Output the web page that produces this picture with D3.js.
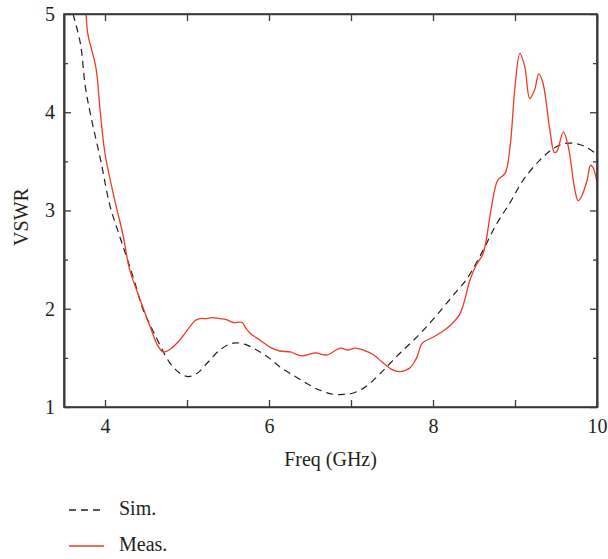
<!DOCTYPE html>
<html>
<head>
<meta charset="utf-8">
<script src="https://cdn.jsdelivr.net/npm/d3@7"></script>
<style>
body { margin: 0; background: #fff; }
text { font-family: "Liberation Serif", "Times New Roman", "DejaVu Serif", serif; fill: #231f20; }
</style>
</head>
<body>
<svg id="ChartSvg" width="608" height="559"></svg>
<script>
// simulated VSWR
var SimFreq = [3.61,3.70,3.76,3.83,3.95,4.06,4.17,4.27,4.37,4.46,4.60,4.79,4.92,5.02,5.12,5.25,5.40,5.56,5.70,5.85,6.00,6.13,6.30,6.46,6.62,6.78,6.92,7.02,7.17,7.32,7.46,7.60,7.74,7.88,8.03,8.17,8.29,8.41,8.57,8.78,8.94,9.10,9.30,9.45,9.59,9.75,9.88,10.0];
var SimVswr = [5.00,4.70,4.26,3.95,3.50,3.05,2.76,2.51,2.25,2.00,1.75,1.45,1.34,1.31,1.34,1.45,1.58,1.65,1.64,1.58,1.50,1.41,1.32,1.24,1.17,1.13,1.13,1.14,1.20,1.31,1.43,1.55,1.66,1.78,1.92,2.06,2.18,2.30,2.53,2.87,3.08,3.31,3.51,3.62,3.68,3.68,3.64,3.57];

// measured VSWR
var MeasFreq = [3.77,3.79,3.89,3.94,4.00,4.12,4.22,4.30,4.43,4.55,4.64,4.71,4.78,4.91,5.02,5.10,5.16,5.24,5.30,5.40,5.48,5.56,5.67,5.72,5.77,5.89,6.01,6.13,6.26,6.40,6.56,6.71,6.87,6.96,7.05,7.15,7.26,7.39,7.50,7.60,7.72,7.80,7.87,8.00,8.10,8.21,8.33,8.45,8.53,8.61,8.70,8.75,8.79,8.88,8.94,9.00,9.06,9.12,9.18,9.24,9.29,9.34,9.43,9.48,9.51,9.59,9.65,9.73,9.77,9.81,9.88,9.92,9.95,10.0];
var MeasVswr = [5.00,4.80,4.45,4.02,3.58,3.10,2.75,2.40,2.09,1.82,1.63,1.56,1.58,1.68,1.80,1.88,1.90,1.90,1.91,1.90,1.89,1.86,1.86,1.80,1.75,1.68,1.61,1.57,1.56,1.52,1.55,1.53,1.60,1.58,1.60,1.58,1.54,1.45,1.38,1.36,1.40,1.50,1.65,1.71,1.76,1.83,1.95,2.29,2.45,2.56,2.97,3.20,3.31,3.38,3.65,4.26,4.60,4.46,4.14,4.23,4.39,4.30,3.79,3.59,3.60,3.80,3.65,3.21,3.10,3.14,3.31,3.46,3.44,3.29];

var XTicks = [4,6,8,10];
var YTicks = [1,2,3,4,5];

var Svg = d3.select("#ChartSvg");
var Left = 64, Right = 597, Top = 14, Bottom = 407;
var FontSize = 20;

var X = d3.scaleLinear().domain([3.5,10]).range([Left,Right]);
var Y = d3.scaleLinear().domain([1,5]).range([Bottom,Top]);

Svg.append("clipPath").attr("id","PlotClip")
	.append("rect").attr("x",Left).attr("y",Top).attr("width",Right-Left).attr("height",Bottom-Top);

var SimData = SimFreq.map(function(f,i){ return [f,SimVswr[i]]; });
var MeasData = MeasFreq.map(function(f,i){ return [f,MeasVswr[i]]; });

var Line = d3.line()
	.x(function(d){ return X(d[0]); })
	.y(function(d){ return Y(d[1]); })
	.curve(d3.curveCatmullRom.alpha(0.5));

var Plot = Svg.append("g").attr("clip-path","url(#PlotClip)");

Plot.append("path").datum(SimData)
	.attr("d",Line)
	.attr("fill","none")
	.attr("stroke","#231f20")
	.attr("stroke-width",1.2)
	.attr("stroke-dasharray","7,5");

Plot.append("path").datum(MeasData)
	.attr("d",Line)
	.attr("fill","none")
	.attr("stroke","#ee3b24")
	.attr("stroke-width",1.3);

// axes, ticks inward on all four sides
var AxisColor = "#3a3a3a";
var MinorX = d3.range(4,10.01,1);
var MinorY = d3.range(1.5,5,1);

var Bot = Svg.append("g").attr("transform","translate(0," + Bottom + ")")
	.call(d3.axisBottom(X).tickValues(MinorX).tickSizeInner(-7).tickSizeOuter(0).tickFormat(function(d){ return XTicks.indexOf(d) >= 0 ? d : ""; }));
Svg.append("g").attr("transform","translate(0," + Top + ")")
	.call(d3.axisTop(X).tickValues(MinorX).tickSizeInner(-7).tickSizeOuter(0).tickFormat(""));
var LeftAx = Svg.append("g").attr("transform","translate(" + Left + ",0)")
	.call(d3.axisLeft(Y).tickValues(YTicks).tickSizeInner(-7).tickSizeOuter(0).tickFormat(d3.format("d")));
Svg.append("g").attr("transform","translate(" + Right + ",0)")
	.call(d3.axisRight(Y).tickValues(YTicks).tickSizeInner(-7).tickSizeOuter(0).tickFormat(""));
Svg.append("g").attr("transform","translate(" + Left + ",0)")
	.call(d3.axisLeft(Y).tickValues(MinorY).tickSizeInner(-4).tickSizeOuter(0).tickFormat(""));
Svg.append("g").attr("transform","translate(" + Right + ",0)")
	.call(d3.axisRight(Y).tickValues(MinorY).tickSizeInner(-4).tickSizeOuter(0).tickFormat(""));

Svg.selectAll(".domain").attr("stroke",AxisColor).attr("stroke-width",1.6);
Svg.selectAll(".tick line").attr("stroke",AxisColor).attr("stroke-width",1.3);
Svg.selectAll(".tick text").attr("font-family",null).attr("font-size",FontSize).attr("fill","#231f20");
Bot.selectAll(".tick text").attr("y",12);
LeftAx.selectAll(".tick text").attr("x",-9);

Svg.append("rect").attr("x",Left).attr("y",Top).attr("width",Right-Left).attr("height",Bottom-Top)
	.attr("fill","none").attr("stroke",AxisColor).attr("stroke-width",1.6);

Svg.append("text")
	.attr("x",(Left+Right)/2).attr("y",466)
	.attr("text-anchor","middle").attr("font-size",FontSize)
	.text("Freq (GHz)");

Svg.append("text")
	.attr("transform","translate(28,217) rotate(-90)")
	.attr("text-anchor","middle").attr("font-size",FontSize)
	.text("VSWR");

// legend
var Legend = [["Sim.","#231f20","7,5"],["Meas.","#ee3b24",null]];
var Lg = Svg.selectAll(".legend").data(Legend).enter().append("g")
	.attr("transform",function(d,i){ return "translate(69," + (510 + i*36) + ")"; });
Lg.append("line").attr("x1",0).attr("x2",35).attr("y1",0).attr("y2",0)
	.attr("stroke",function(d){ return d[1]; })
	.attr("stroke-width",1.3)
	.attr("stroke-dasharray",function(d){ return d[2]; });
Lg.append("text").attr("x",50).attr("y",5).attr("font-size",FontSize)
	.text(function(d){ return d[0]; });
</script>
</body>
</html>
